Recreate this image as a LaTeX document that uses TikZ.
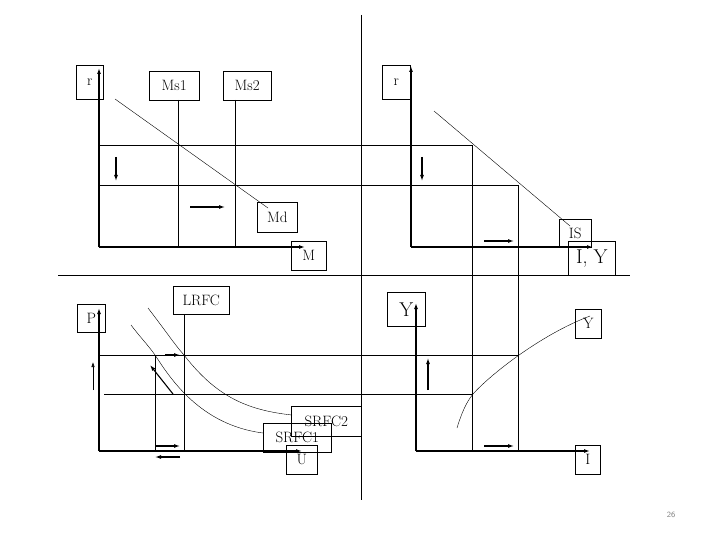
\documentclass[tikz,border=0pt]{standalone}
\usetikzlibrary{arrows.meta}
\begin{document}
\begin{tikzpicture}[x=1pt,y=-1pt,
 lbl/.style={draw,line width=0.5pt,font=\fontsize{15}{17}\selectfont,inner sep=0pt,anchor=north west},
 big/.style={font=\fontsize{20}{22}\selectfont},
 ax/.style={line width=1.4pt,-{Latex[length=6pt,width=4pt]}},
 ln/.style={line width=0.7pt},
 thn/.style={line width=0.4pt},
 arr/.style={line width=1.1pt,-{Latex[length=6pt,width=4pt]}}]
\useasboundingbox (0,0) rectangle (720,540);
% dividers
\draw[ln] (361,15) -- (361,500);
\draw[ln] (58,275) -- (630,275);
% ---- top-left
\node[lbl,minimum width=27pt,minimum height=34pt] (r1) at (76,65) {r};
\node[lbl,minimum width=50pt,minimum height=29pt] (ms1) at (149,71) {Ms1};
\node[lbl,minimum width=48pt,minimum height=29pt] (ms2) at (223,71) {Ms2};
\node[lbl,minimum width=40pt,minimum height=30pt] (md) at (257,202) {Md};
\node[lbl,minimum width=35pt,minimum height=29pt] (m) at (291,241) {M};
\coordinate (o1) at (99,247);
\draw[ax] (o1) -- (99,68);
\draw[ax] (o1) -- (305,247);
\draw[ln] (178,100) -- (178,247);
\draw[ln] (235,100) -- (235,247);
\draw[thn] (115,99) -- (268,208);
\draw[ln] (99,145) -- (472,145) -- (472,450);
\draw[ln] (99,185) -- (518,185) -- (518,450);
\draw[arr] (116,157) -- (116,181);
\draw[arr] (190,207) -- (225,207);
% ---- top-right
\node[lbl,minimum width=28pt,minimum height=34pt] (r2) at (382,65) {r};
\node[lbl,minimum width=32pt,minimum height=28pt] (is) at (559,219) {IS};
\node[lbl,big,minimum width=47pt,minimum height=34pt] (iy) at (568,241) {I, Y};
\coordinate (o2) at (411,247);
\draw[ax] (o2) -- (411,66);
\draw[ax] (o2) -- (593,247);
\draw[thn] (434,111) -- (570,226);
\draw[arr] (422,157) -- (422,181);
\draw[arr] (484,241) -- (514,241);
% ---- bottom-right
\node[lbl,big,minimum width=38pt,minimum height=34pt] (y1) at (387,292) {Y};
\node[lbl,minimum width=26pt,minimum height=29pt] (y2) at (575,309) {Y};
\node[lbl,minimum width=25pt,minimum height=29pt] (i) at (575,445) {I};
\coordinate (o3) at (416,451);
\draw[ax] (o3) -- (416,303);
\draw[ax] (o3) -- (590,451);
\draw[ln] (99,355) -- (518,355);
\draw[ln] (104,394) -- (473,394);
\draw[thn] (457,428) .. controls (464,405) and (470,398) .. (473,394) .. controls (490,375) and (540,335) .. (590,316);
\draw[arr] (428,390) -- (428,358);
\draw[arr] (484,446) -- (514,446);
% ---- bottom-left
\node[lbl,minimum width=28pt,minimum height=28pt] (p) at (77,304) {P};
\node[lbl,minimum width=56pt,minimum height=28pt] (lrfc) at (173,286) {LRFC};
\node[lbl,minimum width=70pt,minimum height=30pt] (s2) at (291,406) {SRFC2};
\node[lbl,minimum width=68pt,minimum height=29pt] (s1) at (263,423) {SRFC1};
\node[lbl,minimum width=31pt,minimum height=29pt] (u) at (286,445) {U};
\coordinate (o4) at (99,451);
\draw[ax] (o4) -- (99,308);
\draw[ax] (o4) -- (302,451);
\draw[ln] (184,314) -- (184,451);
\draw[ln] (155,355) -- (155,451);
\draw[thn] (148,308) .. controls (165,330) and (175,345) .. (184,355) .. controls (215,395) and (245,410) .. (292,415);
\draw[thn] (131,325) .. controls (140,337) and (148,345) .. (155,355) .. controls (170,378) and (200,425) .. (263,433);
\draw[arr] (165,355) -- (180,355);
\draw[arr] (156,446) -- (180,446);
\draw[arr] (180,457) -- (155,457);
\draw[arr] (173,394) -- (150,365);
\draw[line width=0.6pt,-{Latex[length=5pt,width=3.5pt]}] (93,390) -- (93,362);
\node[font=\footnotesize\sffamily,text=gray] (pg) at (671,515) {26};
\end{tikzpicture}
\end{document}
